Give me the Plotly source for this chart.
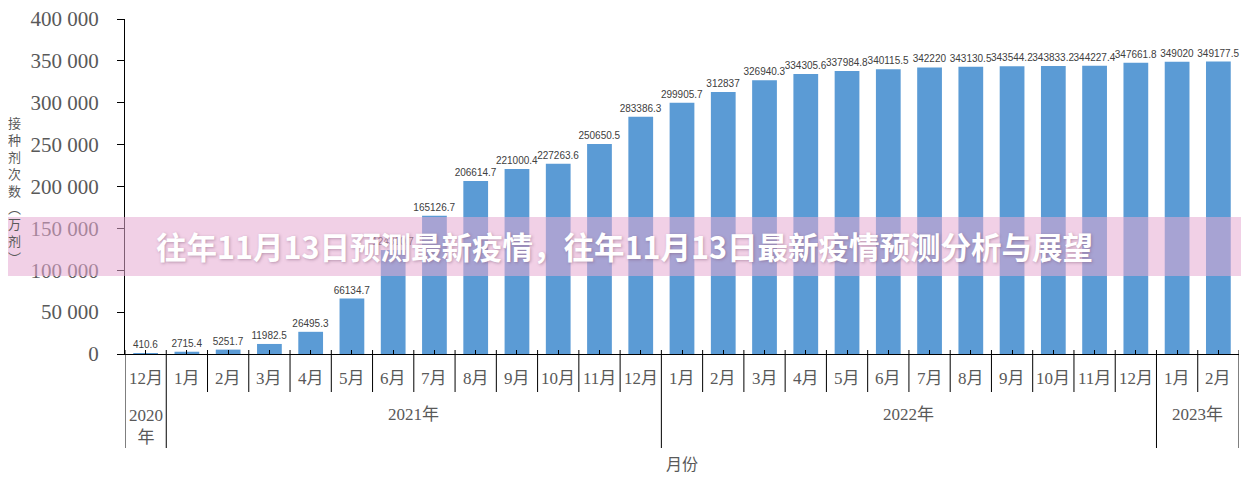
import plotly.graph_objects as go

# monthly cumulative vaccination doses (万剂)
months = ["12月",
          "1月", "2月", "3月", "4月", "5月", "6月", "7月", "8月", "9月", "10月", "11月", "12月",
          "1月", "2月", "3月", "4月", "5月", "6月", "7月", "8月", "9月", "10月", "11月", "12月",
          "1月", "2月"]
doses = [410.6,
         2715.4, 5251.7, 11982.5, 26495.3, 66134.7, 124310.7, 165126.7, 206614.7,
         221000.4, 227263.6, 250650.5, 283386.3,
         299905.7, 312837, 326940.3, 334305.6, 337984.8, 340115.5, 342220,
         343130.5, 343544.2, 343833.2, 344227.4, 347661.8,
         349020, 349177.5]
year_names = ["2020<br>年", "2021年", "2022年", "2023年"]
year_counts = [1, 12, 12, 2]

title = "往年11月13日预测最新疫情，往年11月13日最新疫情预测分析与展望"

# page body has an 8px margin, so the figure is drawn 8px in from the window edge
OFF = 8
W, H = 1249 - OFF, 494 - OFF
L, R, T, B = 125 - OFF, 10, 19 - OFF, 140
PW, PH = W - L - R, H - T - B
X0, Y0 = 125, 354  # window position of the axis origin

xs = list(range(len(months)))
labels = [("%.1f" % v).rstrip("0").rstrip(".") for v in doses]

fig = go.Figure()
fig.add_trace(go.Bar(
    x=xs, y=doses, width=0.6,
    marker=dict(color="#5B9BD5", line=dict(width=0)),
    text=labels, textposition="outside", constraintext="none", cliponaxis=False,
    textfont=dict(family="Liberation Sans, Arial", size=10, color="#404040"),
))

shapes = []
annotations = []

def py(px_below):
    # pixels below the x axis -> paper coordinate
    return -px_below / PH

# month labels and separators
for i, m in enumerate(months):
    annotations.append(dict(x=i, xref="x", y=py(24), yref="paper", text=m,
                            showarrow=False, xanchor="center", yanchor="middle",
                            font=dict(family="Liberation Serif, Noto Sans CJK SC", size=17, color="#595959")))

year_edges = [-0.5]
for c in year_counts:
    year_edges.append(year_edges[-1] + c)

for i in range(len(months) - 1):
    b = i + 0.5
    if b in year_edges:
        continue
    shapes.append(dict(type="line", xref="x", yref="paper", x0=b, x1=b,
                       y0=4 / PH, y1=py(38), line=dict(color="black", width=1)))
for b in year_edges:
    shapes.append(dict(type="line", xref="x", yref="paper", x0=b, x1=b,
                       y0=4 / PH, y1=py(94), line=dict(color="black", width=1)))

for k, name in enumerate(year_names):
    mid = (year_edges[k] + year_edges[k + 1]) / 2
    annotations.append(dict(x=mid, xref="x", y=py(60 if k else 72), yref="paper", text=name,
                            showarrow=False, xanchor="center", yanchor="middle",
                            font=dict(family="Liberation Serif, Noto Sans CJK SC", size=17, color="#595959")))

# axis titles
annotations.append(dict(x=0.5, xref="paper", y=py(109), yref="paper", text="月份",
                        showarrow=False, xanchor="center", yanchor="middle",
                        font=dict(family="Noto Sans CJK SC", size=16, color="#595959")))
annotations.append(dict(x=(14 - X0) / PW, xref="paper", y=(Y0 - 190) / PH, yref="paper",
                        text="<br>".join(list("接种剂次数︵万剂︶")),
                        showarrow=False, xanchor="center", yanchor="middle",
                        font=dict(family="Noto Sans CJK SC", size=13, color="#595959")))

# overlay banner
shapes.append(dict(type="rect", xref="paper", yref="paper", layer="above",
                   x0=-L / PW, x1=1 + R / PW, y0=(Y0 - 276) / PH, y1=(Y0 - 217) / PH,
                   fillcolor="rgba(230,170,210,0.55)", line=dict(width=0)))
annotations.append(dict(x=(624 - X0) / PW, xref="paper", y=(Y0 - 246) / PH, yref="paper",
                        text="<b>" + title + "</b>", showarrow=False,
                        xanchor="center", yanchor="middle",
                        font=dict(family="Noto Sans CJK SC", size=30.5, color="white",
                                  shadow="1px 1px 3px rgba(120,80,110,0.45)")))

fig.update_layout(
    width=W, height=H,
    margin=dict(l=L, r=R, t=T, b=B, autoexpand=False),
    paper_bgcolor="white", plot_bgcolor="white",
    showlegend=False,
    separators=". ",
    bargap=0.4,
    xaxis=dict(range=[-0.5, len(months) - 0.5], tickvals=xs, showticklabels=False,
               ticks="inside", ticklen=4, tickcolor="black", showgrid=False, zeroline=False,
               showline=True, linecolor="black", linewidth=1, automargin=False),
    yaxis=dict(range=[0, 400000], dtick=50000, tickformat=",d", ticks="outside", ticklen=7,
               tickcolor="black", showgrid=False, zeroline=False, showline=True,
               linecolor="black", linewidth=1, ticklabelstandoff=14, automargin=False,
               ticklabeloverflow="allow",
               tickfont=dict(family="Liberation Serif, Times New Roman", size=21, color="#595959")),
    shapes=shapes,
    annotations=annotations,
)

fig.write_html("out.html")
